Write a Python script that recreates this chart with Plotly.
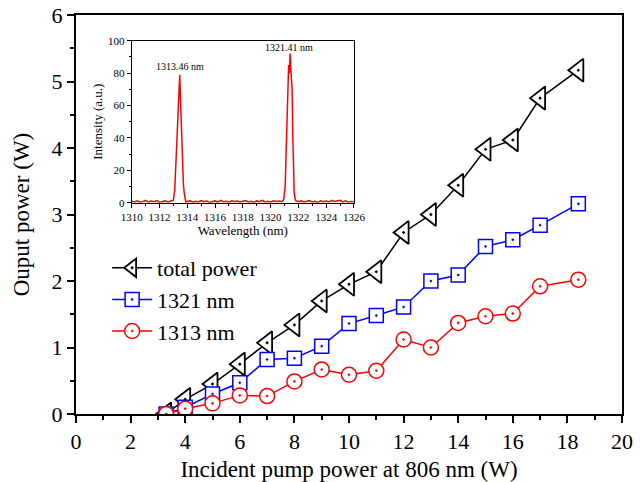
import plotly.graph_objects as go

# Main data
pump = [3.3, 4, 5, 6, 7, 8, 9, 10, 11, 12, 13, 14, 15, 16, 17, 18.4]
total_power = [0.0, 0.22, 0.45, 0.75, 1.07, 1.34, 1.70, 1.95, 2.14, 2.73, 3.00, 3.44, 3.98, 4.12, 4.75, 5.17]
p1321 = [0.0, 0.10, 0.30, 0.47, 0.82, 0.84, 1.02, 1.36, 1.48, 1.61, 2.00, 2.09, 2.52, 2.62, 2.84, 3.16]
p1313 = [0.0, 0.08, 0.16, 0.28, 0.27, 0.49, 0.67, 0.59, 0.65, 1.12, 1.00, 1.37, 1.47, 1.51, 1.92, 2.02]

# Inset spectrum
spec_wavelength = [
    1310.0, 1310.2, 1310.4, 1310.6, 1310.8, 1311.0, 1311.2, 1311.4, 1311.6, 1311.8,
    1312.0, 1312.2, 1312.4, 1312.6, 1312.8,
    1313.0, 1313.1, 1313.2, 1313.3, 1313.36, 1313.42, 1313.46, 1313.5, 1313.55, 1313.6,
    1313.66, 1313.72, 1313.78, 1313.85, 1313.9,
    1314.0, 1314.2, 1314.4, 1314.6, 1314.8, 1315.0, 1315.2, 1315.4, 1315.6, 1315.8,
    1316.0, 1316.2, 1316.4, 1316.6, 1316.8, 1317.0, 1317.2, 1317.4, 1317.6, 1317.8,
    1318.0, 1318.2, 1318.4, 1318.6, 1318.8, 1319.0, 1319.2, 1319.4, 1319.6, 1319.8,
    1320.0, 1320.2, 1320.4, 1320.6, 1320.8,
    1320.95, 1321.05, 1321.15, 1321.2, 1321.25, 1321.3, 1321.35, 1321.41, 1321.46, 1321.5,
    1321.55, 1321.6, 1321.65, 1321.7, 1321.8,
    1322.0, 1322.2, 1322.4, 1322.6, 1322.8, 1323.0, 1323.2, 1323.4, 1323.6, 1323.8,
    1324.0, 1324.2, 1324.4, 1324.6, 1324.8, 1325.0, 1325.2, 1325.4, 1325.6, 1325.8, 1326.0,
]
spec_intensity = [
    0.9, 0.5, 1.2, 0.3, 0.8, 1.4, 0.4, 1.0, 0.6, 1.3,
    0.2, 0.9, 1.1, 0.5, 0.8,
    1.5, 8, 28, 52, 62, 70, 79, 68, 54, 38,
    16, 12, 6, 1.5, 0.4,
    0.7, 1.2, 0.3, 0.9, 0.5, 1.3, 0.6, 1.0, 0.2, 0.8,
    1.1, 0.4, 1.4, 0.6, 0.9, 0.3, 1.2, 0.7, 1.0, 0.4,
    0.8, 1.3, 0.5, 0.9, 0.2, 1.1, 0.6, 1.4, 0.5, 0.9,
    0.3, 1.2, 0.7, 1.0, 0.6,
    2, 10, 38, 58, 62, 85, 80, 92, 82, 76,
    70, 42, 20, 6, 1.2,
    0.6, 1.1, 0.4, 0.9, 1.3, 0.5, 0.8, 0.2, 1.2, 0.6,
    1.0, 0.4, 1.4, 0.7, 0.9, 1.5, 0.5, 1.1, 0.3, 0.8, 0.6,
]
peak_labels = ["1313.46 nm", "1321.41 nm"]
peak_label_x = [1313.5, 1321.3]
peak_label_y = [84, 96]

FONT = "Liberation Serif, Times New Roman, DejaVu Serif, serif"

fig = go.Figure()
fig.add_trace(go.Scatter(
    x=pump, y=total_power, mode="lines+markers", name="total power",
    line=dict(color="black", width=1.5),
    marker=dict(symbol="triangle-left-dot", size=20, color="white", line=dict(width=1.8, color="black")),
))
fig.add_trace(go.Scatter(
    x=pump, y=p1321, mode="lines+markers", name="1321 nm",
    line=dict(color="#0000ff", width=1.5),
    marker=dict(symbol="square-dot", size=14, color="white", line=dict(width=1.5, color="#0000ff")),
))
fig.add_trace(go.Scatter(
    x=pump, y=p1313, mode="lines+markers", name="1313 nm",
    line=dict(color="#ff0000", width=1.5),
    marker=dict(symbol="circle-dot", size=15, color="white", line=dict(width=1.5, color="#ff0000")),
))
fig.add_trace(go.Scatter(
    x=spec_wavelength, y=spec_intensity, mode="lines", showlegend=False,
    line=dict(color="#ff0000", width=1.5), xaxis="x2", yaxis="y2",
))

for txt, xx, yy in zip(peak_labels, peak_label_x, peak_label_y):
    fig.add_annotation(x=xx, y=yy, xref="x2", yref="y2", text=txt, showarrow=False,
                       font=dict(family=FONT, size=10, color="black"))

axis_common = dict(showline=True, linecolor="black", mirror=True, showgrid=False,
                   zeroline=False, ticks="outside", tickcolor="black", ticklabeloverflow="allow")

fig.update_layout(
    width=641, height=482,
    margin=dict(l=68, r=27, t=7, b=76, autoexpand=False),
    plot_bgcolor="white", paper_bgcolor="white",
    font=dict(family=FONT, color="black"),
    xaxis=dict(range=[0, 20], dtick=2, tick0=0, linewidth=2, tickwidth=2, ticklen=7,
               tickfont=dict(size=22, family=FONT),
               title=dict(text="Incident pump power at 806 nm (W)", font=dict(size=23, family=FONT), standoff=7),
               minor=dict(dtick=1, ticks="outside", ticklen=4, tickwidth=1.5, tickcolor="black"),
               **axis_common),
    yaxis=dict(range=[0, 6], dtick=1, tick0=0, linewidth=2, tickwidth=2, ticklen=7,
               tickfont=dict(size=22, family=FONT),
               title=dict(text="Ouput power (W)", font=dict(size=23, family=FONT), standoff=16),
               minor=dict(dtick=0.5, ticks="outside", ticklen=4, tickwidth=1.5, tickcolor="black"),
               **axis_common),
    xaxis2=dict(domain=[0.102, 0.509], anchor="y2", range=[1310, 1326], dtick=2, tick0=1310,
                linewidth=1.2, tickwidth=1, ticklen=4, tickfont=dict(size=11, family=FONT),
                title=dict(text="Wavelength (nm)", font=dict(size=13, family=FONT), standoff=2),
                minor=dict(dtick=1, ticks="outside", ticklen=2, tickwidth=1, tickcolor="black"),
                **axis_common),
    yaxis2=dict(domain=[0.5296, 0.9356], anchor="x2", range=[0, 100], dtick=20, tick0=0,
                linewidth=1.2, tickwidth=1, ticklen=4, tickfont=dict(size=11, family=FONT),
                title=dict(text="Intensity (a.u.)", font=dict(size=13, family=FONT), standoff=2),
                minor=dict(dtick=10, ticks="outside", ticklen=2, tickwidth=1, tickcolor="black"),
                **axis_common),
    legend=dict(x=0.057, y=0.4185, xanchor="left", yanchor="top", bgcolor="rgba(0,0,0,0)",
                font=dict(size=22, family=FONT), tracegroupgap=0, itemwidth=40),
    showlegend=True,
)

fig.write_html("out.html")
